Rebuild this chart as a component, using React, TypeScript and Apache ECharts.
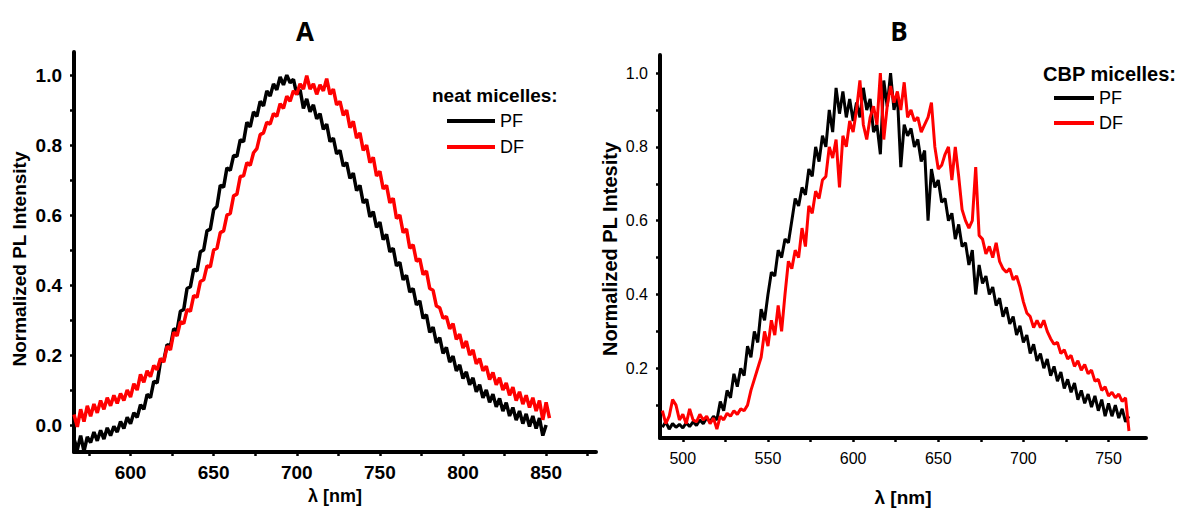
import React, { useEffect, useRef } from "react";
import * as echarts from "echarts";

// ---- Panel A (neat micelles) ----
const waveA = [
  566, 568, 570, 572, 574, 576, 578, 580, 582, 584,
  586, 588, 590, 592, 594, 596, 598, 600, 602, 604,
  606, 608, 610, 612, 614, 616, 618, 620, 622, 624,
  626, 628, 630, 632, 634, 636, 638, 640, 642, 644,
  646, 648, 650, 652, 654, 656, 658, 660, 662, 664,
  666, 668, 670, 672, 674, 676, 678, 680, 682, 684,
  686, 688, 690, 692, 694, 696, 698, 700, 702, 704,
  706, 708, 710, 712, 714, 716, 718, 720, 722, 724,
  726, 728, 730, 732, 734, 736, 738, 740, 742, 744,
  746, 748, 750, 752, 754, 756, 758, 760, 762, 764,
  766, 768, 770, 772, 774, 776, 778, 780, 782, 784,
  786, 788, 790, 792, 794, 796, 798, 800, 802, 804,
  806, 808, 810, 812, 814, 816, 818, 820, 822, 824,
  826, 828, 830, 832, 834, 836, 838, 840, 842, 844,
  846, 848, 850, 852,
];
const pfA = [
  -0.04, -0.07, -0.03, -0.075, -0.034, -0.05, -0.02, -0.045, -0.015, -0.04,
  -0.008, -0.03, -0.004, -0.02, 0.01, -0.01, 0.022, 0.004, 0.035, 0.022,
  0.058, 0.045, 0.088, 0.078, 0.125, 0.12, 0.18, 0.185, 0.23, 0.225,
  0.275, 0.27, 0.325, 0.33, 0.39, 0.395, 0.445, 0.44, 0.495, 0.5,
  0.555, 0.56, 0.615, 0.625, 0.685, 0.68, 0.735, 0.728, 0.77, 0.768,
  0.815, 0.81, 0.865, 0.852, 0.895, 0.882, 0.925, 0.912, 0.955, 0.94,
  0.975, 0.958, 0.995, 0.972, 1.0, 0.978, 0.988, 0.945, 0.958, 0.905,
  0.932, 0.895, 0.915, 0.875, 0.89, 0.845, 0.86, 0.81, 0.82, 0.775,
  0.785, 0.74, 0.75, 0.705, 0.72, 0.67, 0.685, 0.635, 0.645, 0.595,
  0.61, 0.565, 0.58, 0.53, 0.545, 0.495, 0.505, 0.455, 0.465, 0.415,
  0.428, 0.38, 0.39, 0.343, 0.355, 0.305, 0.315, 0.265, 0.28, 0.235,
  0.25, 0.205, 0.222, 0.18, 0.197, 0.155, 0.172, 0.133, 0.152, 0.115,
  0.135, 0.095, 0.115, 0.078, 0.1, 0.065, 0.088, 0.052, 0.076, 0.04,
  0.064, 0.026, 0.05, 0.014, 0.04, 0.004, 0.032, -0.004, 0.026, -0.01,
  0.02, -0.03, 0.0,
];
const dfA = [
  0.03, -0.005, 0.045, 0.01, 0.055, 0.025, 0.06, 0.035, 0.07, 0.045,
  0.078, 0.055, 0.085, 0.062, 0.09, 0.07, 0.1, 0.08, 0.118, 0.1,
  0.145, 0.122, 0.155, 0.138, 0.17, 0.158, 0.19, 0.18, 0.225, 0.215,
  0.265, 0.255, 0.295, 0.29, 0.33, 0.325, 0.37, 0.365, 0.41, 0.415,
  0.455, 0.452, 0.5, 0.505, 0.55, 0.555, 0.6, 0.605, 0.655, 0.66,
  0.71, 0.712, 0.75, 0.742, 0.778, 0.79, 0.83, 0.835, 0.865, 0.86,
  0.89, 0.882, 0.918, 0.905, 0.94, 0.925, 0.955, 0.945, 0.975, 0.96,
  0.998, 0.96, 0.975, 0.945, 0.972, 0.955, 0.99, 0.945, 0.96, 0.915,
  0.925, 0.885, 0.9, 0.85, 0.868, 0.82, 0.835, 0.785, 0.8, 0.75,
  0.765, 0.712, 0.725, 0.675, 0.685, 0.635, 0.648, 0.59, 0.6, 0.55,
  0.56, 0.505, 0.515, 0.468, 0.475, 0.43, 0.44, 0.39, 0.385, 0.34,
  0.335, 0.305, 0.31, 0.275, 0.29, 0.245, 0.26, 0.22, 0.24, 0.2,
  0.215, 0.175, 0.19, 0.155, 0.168, 0.13, 0.15, 0.115, 0.135, 0.1,
  0.12, 0.085, 0.108, 0.07, 0.095, 0.06, 0.085, 0.05, 0.078, 0.04,
  0.07, 0.015, 0.065, 0.02,
];
const xTicksA = [575, 600, 625, 650, 675, 700, 725, 750, 775, 800, 825, 850, 875];
const xLabelsA = [600, 650, 700, 750, 800, 850];
const yTicksA = [0, 0.1, 0.2, 0.3, 0.4, 0.5, 0.6, 0.7, 0.8, 0.9, 1.0];
const yLabelsA = [0, 0.2, 0.4, 0.6, 0.8, 1.0];

// ---- Panel B (CBP micelles) ----
const waveB = [
  488, 490, 492, 494, 496, 498, 500, 502, 504, 506,
  508, 510, 512, 514, 516, 518, 520, 522, 524, 526,
  528, 530, 532, 534, 536, 538, 540, 542, 544, 546,
  548, 550, 552, 554, 556, 558, 560, 562, 564, 566,
  568, 570, 572, 574, 576, 578, 580, 582, 584, 586,
  588, 590, 592, 594, 596, 598, 600, 602, 604, 606,
  608, 610, 612, 614, 616, 618, 620, 622, 624, 626,
  628, 630, 632, 634, 636, 638, 640, 642, 644, 646,
  648, 650, 652, 654, 656, 658, 660, 662, 664, 666,
  668, 670, 672, 674, 676, 678, 680, 682, 684, 686,
  688, 690, 692, 694, 696, 698, 700, 702, 704, 706,
  708, 710, 712, 714, 716, 718, 720, 722, 724, 726,
  728, 730, 732, 734, 736, 738, 740, 742, 744, 746,
  748, 750, 752, 754, 756, 758, 760, 762,
];
const pfB = [
  0.04, 0.055, 0.035, 0.05, 0.04, 0.048, 0.038, 0.052, 0.042, 0.055,
  0.045, 0.06, 0.05, 0.065, 0.055, 0.07, 0.06, 0.11, 0.085, 0.14,
  0.12, 0.185, 0.15, 0.2, 0.18, 0.26, 0.23, 0.3, 0.27, 0.36,
  0.33, 0.4, 0.46, 0.45, 0.52, 0.5, 0.55, 0.54, 0.6, 0.66,
  0.64, 0.69, 0.67, 0.74, 0.72, 0.8, 0.76, 0.83, 0.8, 0.9,
  0.84, 0.96, 0.89, 0.95, 0.88, 0.93, 0.87, 0.92, 0.88, 0.96,
  0.9, 0.93, 0.84, 0.86, 0.78, 0.98, 0.91, 1.0, 0.9, 0.94,
  0.745, 0.86, 0.83, 0.85, 0.8, 0.82, 0.76, 0.79, 0.6, 0.74,
  0.69, 0.71, 0.65, 0.66, 0.6, 0.62, 0.55, 0.59, 0.53, 0.54,
  0.48, 0.52, 0.4, 0.48, 0.43, 0.45, 0.4, 0.42, 0.37, 0.39,
  0.34, 0.365, 0.32, 0.34, 0.29, 0.315, 0.27, 0.29, 0.24, 0.265,
  0.22, 0.24, 0.2, 0.225, 0.18, 0.205, 0.165, 0.19, 0.145, 0.17,
  0.135, 0.16, 0.115, 0.14, 0.105, 0.13, 0.095, 0.125, 0.085, 0.115,
  0.07, 0.105, 0.07, 0.1, 0.065, 0.09, 0.055, 0.07,
];
const dfB = [
  0.085, 0.05, 0.07, 0.115, 0.1, 0.06, 0.075, 0.05, 0.09, 0.06,
  0.055, 0.075, 0.06, 0.07, 0.05, 0.065, 0.035, 0.07, 0.06, 0.078,
  0.07, 0.085, 0.075, 0.09, 0.085, 0.1, 0.14, 0.17, 0.2, 0.23,
  0.3, 0.26, 0.33, 0.29, 0.37, 0.3, 0.4, 0.49, 0.47, 0.52,
  0.5, 0.58, 0.53, 0.64, 0.62, 0.68, 0.66, 0.71, 0.72, 0.8,
  0.77, 0.82, 0.69, 0.83, 0.8, 0.87, 0.84, 0.9, 0.98, 0.86,
  0.82, 0.88, 0.91, 0.86, 1.0, 0.82, 0.91, 0.965, 0.92, 0.95,
  0.9, 0.975, 0.88, 0.9, 0.87, 0.88, 0.84, 0.86, 0.88, 0.92,
  0.8, 0.74, 0.75, 0.78, 0.8, 0.71, 0.8, 0.72, 0.63, 0.6,
  0.58, 0.6, 0.745, 0.56, 0.55, 0.51, 0.53, 0.5, 0.54, 0.49,
  0.47, 0.46, 0.47, 0.44, 0.45, 0.42, 0.38, 0.35, 0.34, 0.31,
  0.33, 0.31, 0.33, 0.3, 0.28, 0.265, 0.27, 0.24, 0.25, 0.225,
  0.235, 0.205, 0.22, 0.195, 0.21, 0.185, 0.195, 0.165, 0.17, 0.14,
  0.15, 0.125, 0.135, 0.12, 0.13, 0.11, 0.12, 0.03,
];
const xTicksB = [500, 525, 550, 575, 600, 625, 650, 675, 700, 725, 750];
const xLabelsB = [500, 550, 600, 650, 700, 750];
const yTicksB = [0.1, 0.2, 0.3, 0.4, 0.5, 0.6, 0.7, 0.8, 0.9, 1.0];
const yLabelsB = [0.2, 0.4, 0.6, 0.8, 1.0];

const seriesNames = ["PF", "DF"];
const colors = ["#000000", "#ff0000"];

const FONT = "'Liberation Sans', Arial, Helvetica, sans-serif";

function pairs(xs: number[], ys: number[]) {
  return ys.map((v, i) => [xs[i], v]);
}

function axisBase(
  lineWidth: number,
  ticks: number[],
  labels: number[],
  labelSize: number,
  labelWeight: string,
  margin: number,
  fmt?: (v: number) => string
) {
  return {
    type: "value",
    splitLine: { show: false },
    axisLine: { show: true, onZero: false, lineStyle: { color: "#000", width: lineWidth } },
    axisTick: {
      show: true,
      customValues: ticks,
      length: 4,
      inside: false,
      lineStyle: { color: "#000", width: 2.5 },
    },
    axisLabel: {
      customValues: labels,
      color: "#000",
      fontSize: labelSize,
      fontWeight: labelWeight,
      fontFamily: FONT,
      margin,
      formatter: fmt,
    },
  };
}

export default function App() {
  const ref = useRef<HTMLDivElement>(null);
  useEffect(() => {
    if (!ref.current) return;
    const chart = echarts.init(ref.current, undefined, { renderer: "svg" });
    const fmt1 = (v: number) => v.toFixed(1);
    const option: any = {
      animation: false,
      backgroundColor: "#ffffff",
      grid: [
        { left: 74, top: 52, width: 522, height: 400 },
        { left: 660, top: 55, width: 486, height: 393 },
      ],
      xAxis: [
        {
          ...axisBase(4, xTicksA, xLabelsA, 19, "bold", 11),
          gridIndex: 0,
          min: 566,
          max: 880,
          name: "λ [nm]",
          nameLocation: "middle",
          nameGap: 34,
          nameTextStyle: { color: "#000", fontSize: 18, fontWeight: "bold", fontFamily: FONT },
        },
        {
          ...axisBase(4, xTicksB, xLabelsB, 16, "normal", 12),
          gridIndex: 1,
          min: 486.6,
          max: 772,
          name: "λ [nm]",
          nameLocation: "middle",
          nameGap: 50,
          nameTextStyle: { color: "#000", fontSize: 19, fontWeight: "bold", fontFamily: FONT },
        },
      ],
      yAxis: [
        {
          ...axisBase(4, yTicksA, yLabelsA, 19, "bold", 12, fmt1),
          gridIndex: 0,
          min: -0.077,
          max: 1.066,
          name: "Normalized PL Intensity",
          nameLocation: "middle",
          nameGap: 45,
          nameTextStyle: {
            color: "#000",
            fontSize: 19,
            fontWeight: "bold",
            fontFamily: FONT,
            padding: [0, 14, 0, 0],
          },
        },
        {
          ...axisBase(4, yTicksB, yLabelsB, 16, "normal", 12, fmt1),
          gridIndex: 1,
          min: 0.011,
          max: 1.049,
          name: "Normalized PL Intesity",
          nameLocation: "middle",
          nameGap: 40,
          nameTextStyle: {
            color: "#000",
            fontSize: 20,
            fontWeight: "bold",
            fontFamily: FONT,
            padding: [0, 5, 0, 0],
          },
        },
      ],
      legend: [
        {
          data: seriesNames,
          orient: "vertical",
          left: 447,
          top: 111,
          padding: 0,
          itemWidth: 48,
          itemHeight: 4,
          itemGap: 6,
          icon: "rect",
          selectedMode: false,
          textStyle: { color: "#000", fontSize: 18, fontFamily: FONT, lineHeight: 20 },
        },
        {
          data: seriesNames,
          orient: "vertical",
          left: 1054,
          top: 88,
          padding: 0,
          itemWidth: 40,
          itemHeight: 4,
          itemGap: 5,
          icon: "rect",
          selectedMode: false,
          textStyle: { color: "#000", fontSize: 18, fontFamily: FONT, lineHeight: 20 },
        },
      ],
      graphic: [
        {
          type: "text",
          x: 305,
          y: 31,
          style: {
            text: "A",
            font: "bold 26px 'Open Sans', 'Liberation Sans', sans-serif",
            fill: "#000",
            textAlign: "center",
            textVerticalAlign: "middle",
          },
        },
        {
          type: "text",
          x: 899,
          y: 31,
          style: {
            text: "B",
            font: "bold 26px 'Open Sans', 'Liberation Sans', sans-serif",
            fill: "#000",
            textAlign: "center",
            textVerticalAlign: "middle",
          },
        },
        {
          type: "text",
          x: 432,
          y: 95,
          style: {
            text: "neat micelles:",
            font: "bold 19px 'Liberation Sans', Arial, sans-serif",
            fill: "#000",
            textAlign: "left",
            textVerticalAlign: "middle",
          },
        },
        {
          type: "text",
          x: 1043,
          y: 74,
          style: {
            text: "CBP micelles:",
            font: "bold 20px 'Liberation Sans', Arial, sans-serif",
            fill: "#000",
            textAlign: "left",
            textVerticalAlign: "middle",
          },
        },
      ],
      series: [
        {
          name: seriesNames[0],
          type: "line",
          xAxisIndex: 0,
          yAxisIndex: 0,
          data: pairs(waveA, pfA),
          showSymbol: false,
          lineStyle: { color: colors[0], width: 3.5 },
          itemStyle: { color: colors[0] },
        },
        {
          name: seriesNames[1],
          type: "line",
          xAxisIndex: 0,
          yAxisIndex: 0,
          data: pairs(waveA, dfA),
          showSymbol: false,
          lineStyle: { color: colors[1], width: 3.5 },
          itemStyle: { color: colors[1] },
        },
        {
          name: seriesNames[0],
          type: "line",
          xAxisIndex: 1,
          yAxisIndex: 1,
          data: pairs(waveB, pfB),
          showSymbol: false,
          lineStyle: { color: colors[0], width: 3 },
          itemStyle: { color: colors[0] },
        },
        {
          name: seriesNames[1],
          type: "line",
          xAxisIndex: 1,
          yAxisIndex: 1,
          data: pairs(waveB, dfB),
          showSymbol: false,
          lineStyle: { color: colors[1], width: 3 },
          itemStyle: { color: colors[1] },
        },
      ],
    };
    chart.setOption(option);
    return () => chart.dispose();
  }, []);
  return (
    <div
      ref={ref}
      style={{ position: "fixed", left: 0, top: 0, width: 1181, height: 512, background: "#fff" }}
    />
  );
}
